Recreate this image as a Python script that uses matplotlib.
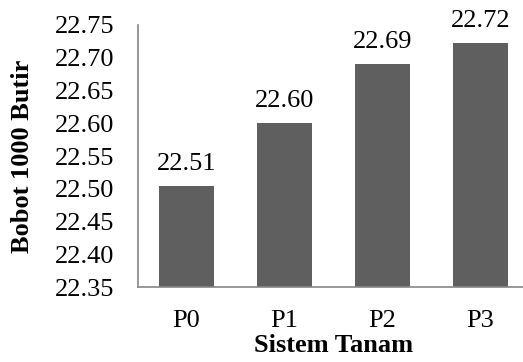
import matplotlib.pyplot as plt

plt.rcParams['font.family'] = ['Liberation Serif', 'DejaVu Serif']

perlakuan = ['P0', 'P1', 'P2', 'P3']
bobot = [22.505, 22.600, 22.690, 22.722]
label_nilai = ['22.51', '22.60', '22.69', '22.72']
yticks = [22.35, 22.40, 22.45, 22.50, 22.55, 22.60, 22.65, 22.70, 22.75]

fs = 19

fig = plt.figure(figsize=(5.23, 3.62), dpi=100)
ax = fig.add_axes([137.5 / 523, 74.7 / 362, 392 / 523, 262.3 / 362])

x = range(len(perlakuan))
ax.bar(x, bobot, width=0.56, color='#5f5f5f', zorder=2)
for i in x:
    ax.annotate(label_nilai[i], (i, bobot[i]), xytext=(0, 8), textcoords='offset points',
                ha='center', va='bottom', fontsize=fs)

ax.set_xlim(-0.5, 3.5)
ax.set_ylim(22.35, 22.75)
ax.set_yticks(yticks)
ax.set_yticklabels(['%.2f' % v for v in yticks], fontsize=fs)
ax.set_xticks(list(x))
ax.set_xticklabels(perlakuan, fontsize=fs)
ax.tick_params(axis='both', length=0)
ax.tick_params(axis='y', pad=17)
ax.tick_params(axis='x', pad=16)

for s in ['top', 'right']:
    ax.spines[s].set_visible(False)
for s in ['left', 'bottom']:
    ax.spines[s].set_color('#868686')
    ax.spines[s].set_linewidth(1.2)

ax.set_xlabel('Sistem Tanam', fontsize=fs, fontweight='bold', labelpad=2)
ax.set_ylabel('Bobot 1000 Butir', fontsize=fs, fontweight='bold', labelpad=15)

fig.savefig('out.png', dpi=100)
